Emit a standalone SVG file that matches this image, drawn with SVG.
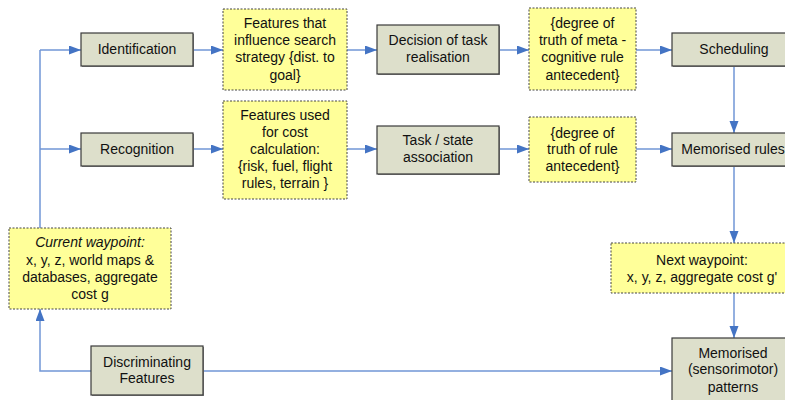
<svg xmlns="http://www.w3.org/2000/svg" width="785" height="400" viewBox="0 0 785 400">
  <style>
    text { font-family: "Liberation Sans", Arial, sans-serif; font-size: 14px; fill: #111; text-anchor: middle; }
    .proc { fill: #dddfcb; stroke: #3a3a3a; stroke-width: 1.2; }
    .data { fill: #ffff99; stroke: #444; stroke-width: 1; stroke-dasharray: 2 1.5; }
    .shadow { fill: #8a8a8a; }
    .link { fill: none; stroke: #7196d6; stroke-width: 1.5; marker-end: url(#head); }
    .plain { fill: none; stroke: #7196d6; stroke-width: 1.5; }
    .it { font-style: italic; }
  </style>
  <defs>
    <marker id="head" markerUnits="userSpaceOnUse" markerWidth="13" markerHeight="10" refX="12" refY="4.5" orient="auto">
      <path d="M0,0 L12,4.5 L0,9 z" fill="#4474c4"/>
    </marker>
  </defs>
  <rect width="785" height="400" fill="#ffffff"/>

  <!-- connectors -->
  <g id="connectors">
    <path class="plain" d="M40,228 V50"/>
    <path class="link" d="M40,50 H81"/>
    <path class="link" d="M40,149 H81"/>
    <path class="link" d="M193,50 H223"/>
    <path class="link" d="M347,50 H377"/>
    <path class="link" d="M499,50 H529"/>
    <path class="link" d="M636,50 H672"/>
    <path class="link" d="M193,149 H223"/>
    <path class="link" d="M347,149 H377"/>
    <path class="link" d="M499,149 H529"/>
    <path class="link" d="M636,149 H672"/>
    <path class="link" d="M734,66 V133"/>
    <path class="link" d="M734,166 V243"/>
    <path class="link" d="M734,293 V338"/>
    <path class="link" d="M203,371 H672"/>
    <path class="link" d="M91,371 H40 V309"/>
  </g>

  <g id="identification">
    <rect class="shadow" x="82" y="34" width="112" height="33"/>
    <rect class="proc" x="81" y="33" width="112" height="33"/>
    <text x="137" y="54">Identification</text>
  </g>

  <g id="recognition">
    <rect class="shadow" x="82" y="134" width="112" height="33"/>
    <rect class="proc" x="81" y="133" width="112" height="33"/>
    <text x="137" y="154">Recognition</text>
  </g>

  <g id="search-features">
    <rect class="data" x="223" y="9" width="124" height="81"/>
    <text x="285" y="28">Features that</text>
    <text x="285" y="45">influence search</text>
    <text x="285" y="62">strategy {dist. to</text>
    <text x="285" y="80">goal}</text>
  </g>

  <g id="cost-features">
    <rect class="data" x="223" y="101" width="124" height="98"/>
    <text x="285" y="120">Features used</text>
    <text x="285" y="137">for cost</text>
    <text x="285" y="154">calculation:</text>
    <text x="285" y="171">{risk, fuel, flight</text>
    <text x="285" y="188">rules, terrain }</text>
  </g>

  <g id="task-decision">
    <rect class="shadow" x="378" y="26" width="122" height="49"/>
    <rect class="proc" x="377" y="25" width="122" height="49"/>
    <text x="438" y="45">Decision of task</text>
    <text x="438" y="62">realisation</text>
  </g>

  <g id="task-state">
    <rect class="shadow" x="378" y="127" width="122" height="48"/>
    <rect class="proc" x="377" y="126" width="122" height="48"/>
    <text x="438" y="145">Task / state</text>
    <text x="438" y="162">association</text>
  </g>

  <g id="meta-truth">
    <rect class="data" x="529" y="8" width="107" height="82"/>
    <text x="582.5" y="28">{degree of</text>
    <text x="582.5" y="45">truth of meta -</text>
    <text x="582.5" y="62">cognitive rule</text>
    <text x="582.5" y="80">antecedent}</text>
  </g>

  <g id="rule-truth">
    <rect class="data" x="529" y="117" width="107" height="65"/>
    <text x="582.5" y="138">{degree of</text>
    <text x="582.5" y="154">truth of rule</text>
    <text x="582.5" y="171">antecedent}</text>
  </g>

  <g id="scheduling">
    <rect class="shadow" x="673" y="34" width="124" height="33"/>
    <rect class="proc" x="672" y="33" width="124" height="33"/>
    <text x="734" y="54">Scheduling</text>
  </g>

  <g id="memorised-rules">
    <rect class="shadow" x="673" y="134" width="124" height="33"/>
    <rect class="proc" x="672" y="133" width="124" height="33"/>
    <text x="733" y="154">Memorised rules</text>
  </g>

  <g id="current-waypoint">
    <rect class="data" x="9" y="228" width="162" height="81"/>
    <text class="it" x="90" y="247">Current waypoint:</text>
    <text x="90" y="265">x, y, z, world maps &amp;</text>
    <text x="90" y="282">databases, aggregate</text>
    <text x="90" y="299">cost g</text>
  </g>

  <g id="next-waypoint">
    <rect class="data" x="611" y="243" width="184" height="50"/>
    <text x="702" y="265">Next waypoint:</text>
    <text x="702" y="282">x, y, z, aggregate cost g'</text>
  </g>

  <g id="discriminating-features">
    <rect class="shadow" x="92" y="347" width="112" height="49"/>
    <rect class="proc" x="91" y="346" width="112" height="49"/>
    <text x="147" y="367">Discriminating</text>
    <text x="147" y="383">Features</text>
  </g>

  <g id="memorised-patterns">
    <rect class="shadow" x="673" y="339" width="124" height="66"/>
    <rect class="proc" x="672" y="338" width="124" height="66"/>
    <text x="733" y="358">Memorised</text>
    <text x="733" y="374">(sensorimotor)</text>
    <text x="733" y="392">patterns</text>
  </g>
</svg>
